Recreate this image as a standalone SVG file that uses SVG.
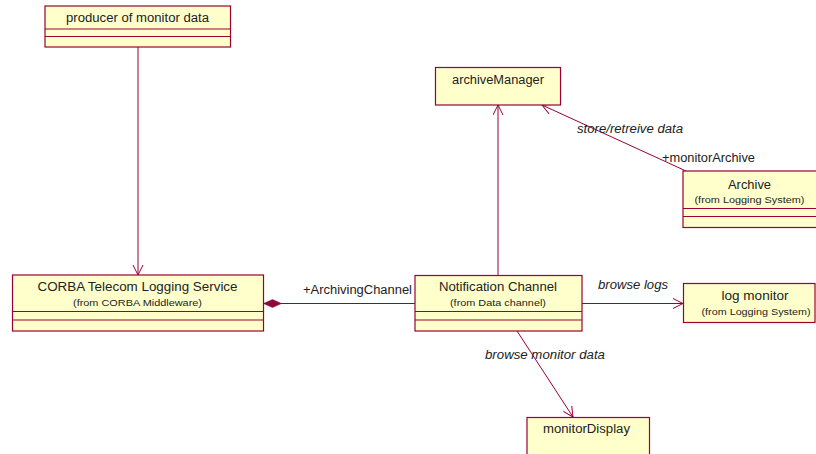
<svg xmlns="http://www.w3.org/2000/svg" width="816" height="454" viewBox="0 0 816 454">
<style>
.box{fill:#FFFFCC;stroke:#990033;stroke-width:1.2}
.sep{stroke:#990033;stroke-width:1.2;fill:none}
.ln{stroke:#990033;stroke-width:1;fill:none}
.nm{font-family:"Liberation Sans",Arial,sans-serif;font-size:12px;fill:#222;text-anchor:middle}
.fr{font-family:"Liberation Sans",Arial,sans-serif;font-size:8.5px;fill:#222;text-anchor:middle}
.lb{font-family:"Liberation Sans",Arial,sans-serif;font-size:12px;fill:#222}
.it{font-style:italic}
</style>
<defs>
<marker id="open" markerUnits="userSpaceOnUse" markerWidth="12" markerHeight="12" refX="11" refY="5.5" orient="auto">
<path d="M1,0.5 L11,5.5 L1,10.5" fill="none" stroke="#990033" stroke-width="1"/>
</marker>
<marker id="dia" markerUnits="userSpaceOnUse" markerWidth="20" markerHeight="10" refX="0" refY="4.5" orient="auto">
<path d="M0,4.5 L9,0.5 L18,4.5 L9,8.5 Z" fill="#8B0A3A" stroke="#8B0A3A" stroke-width="0.5"/>
</marker>
</defs>

<g id="connectors">
<line class="ln" x1="138" y1="47" x2="138" y2="275" marker-end="url(#open)"/>
<line class="ln" x1="498" y1="275.5" x2="498" y2="105" marker-end="url(#open)"/>
<line class="ln" x1="686" y1="171" x2="542" y2="105" marker-end="url(#open)"/>
<line class="ln" x1="582" y1="303.5" x2="683" y2="303.5" marker-end="url(#open)"/>
<line class="ln" x1="517" y1="331" x2="573" y2="417" marker-end="url(#open)"/>
<line class="ln" x1="263.5" y1="303.5" x2="415" y2="303.5" marker-start="url(#dia)"/>
<text class="lb" x="303" y="294" textLength="109" lengthAdjust="spacingAndGlyphs">+ArchivingChannel</text>
<text class="lb it" x="577" y="133" textLength="106" lengthAdjust="spacingAndGlyphs">store/retreive data</text>
<text class="lb" x="662" y="162" textLength="93" lengthAdjust="spacingAndGlyphs">+monitorArchive</text>
<text class="lb it" x="598" y="288.5" textLength="70" lengthAdjust="spacingAndGlyphs">browse logs</text>
<text class="lb it" x="485" y="358.5" textLength="120" lengthAdjust="spacingAndGlyphs">browse monitor data</text>
</g>

<g id="producer">
<rect class="box" x="45" y="6" width="185.5" height="41"/>
<path class="sep" d="M45,29 H230.5 M45,36.5 H230.5"/>
<text class="nm" x="137.5" y="21.5" textLength="143" lengthAdjust="spacingAndGlyphs">producer of monitor data</text>
</g>

<g id="archiveManager">
<rect class="box" x="435.5" y="67.5" width="125" height="37.5"/>
<text class="nm" x="498" y="84" textLength="92" lengthAdjust="spacingAndGlyphs">archiveManager</text>
</g>

<g id="archive">
<rect class="box" x="683" y="171" width="140" height="56.5"/>
<path class="sep" d="M683,208.5 H823 M683,216.5 H823"/>
<text class="nm" x="749.5" y="189" textLength="43" lengthAdjust="spacingAndGlyphs">Archive</text>
<text class="fr" x="749.5" y="203" textLength="110" lengthAdjust="spacingAndGlyphs">(from Logging System)</text>
</g>

<g id="corba">
<rect class="box" x="12.5" y="275" width="251" height="56"/>
<path class="sep" d="M12.5,311.5 H263.5 M12.5,320 H263.5"/>
<text class="nm" x="137.5" y="291" textLength="200" lengthAdjust="spacingAndGlyphs">CORBA Telecom Logging Service</text>
<text class="fr" x="137.5" y="305.5" textLength="129" lengthAdjust="spacingAndGlyphs">(from CORBA Middleware)</text>
</g>

<g id="notification">
<rect class="box" x="415" y="275.5" width="167" height="55.5"/>
<path class="sep" d="M415,311.5 H582 M415,320 H582"/>
<text class="nm" x="498" y="291" textLength="118" lengthAdjust="spacingAndGlyphs">Notification Channel</text>
<text class="fr" x="498" y="305.5" textLength="96" lengthAdjust="spacingAndGlyphs">(from Data channel)</text>
</g>

<g id="logMonitor">
<rect class="box" x="683.5" y="283.5" width="131.5" height="39"/>
<text class="nm" x="755" y="300" textLength="67" lengthAdjust="spacingAndGlyphs">log monitor</text>
<text class="fr" x="756" y="315" textLength="109" lengthAdjust="spacingAndGlyphs">(from Logging System)</text>
</g>

<g id="monitorDisplay">
<rect class="box" x="527" y="417.5" width="122.5" height="45"/>
<text class="nm" x="586.5" y="433" textLength="87" lengthAdjust="spacingAndGlyphs">monitorDisplay</text>
</g>
</svg>
